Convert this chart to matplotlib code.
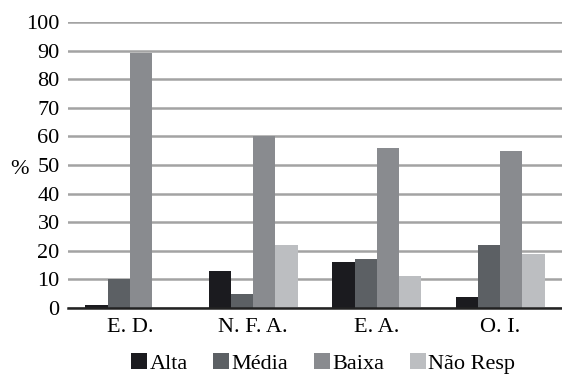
import matplotlib
matplotlib.use('Agg')
import matplotlib.pyplot as plt
import numpy as np

categories = ['E. D.', 'N. F. A.', 'E. A.', 'O. I.']
series = ['Alta', 'Média', 'Baixa', 'Não Resp']
alta = [1, 13, 16, 4]
media = [10, 5, 17, 22]
baixa = [89, 60, 56, 55]
nao_resp = [0, 22, 11, 19]
colors = ['#1b1b1f', '#5c6064', '#898b8f', '#bcbec1']

plt.rcParams['font.family'] = ['Liberation Serif', 'DejaVu Serif']
plt.rcParams['font.size'] = 16

fig = plt.figure(figsize=(5.62, 3.76), dpi=100)
ax = fig.add_axes([0.121, 0.181, 0.879, 0.7605])

x = np.arange(len(categories))
w = 0.18
for i, (name, vals) in enumerate(zip(series, [alta, media, baixa, nao_resp])):
    ax.bar(x + (i - 1.5) * w, vals, w, color=colors[i], label=name, zorder=3)

ax.set_xlim(-0.5, 3.5)
ax.set_ylim(0, 100)
ax.set_yticks(range(0, 101, 10))
ax.set_xticks(x)
ax.set_xticklabels(categories)
ax.yaxis.grid(True, color='#a3a3a3', linewidth=1.8, zorder=0)
ax.tick_params(axis='both', length=0)
ax.tick_params(axis='x', pad=7)
ax.tick_params(axis='y', pad=6)
for s in ['top', 'right', 'left']:
    ax.spines[s].set_visible(False)
ax.spines['bottom'].set_color('#222222')
ax.spines['bottom'].set_linewidth(1.8)
ax.spines['bottom'].set_zorder(4)

fig.text(0.035, 0.55, '%', ha='center', va='center')

fig.legend(loc='lower center', bbox_to_anchor=(0.575, -0.048), ncol=4, frameon=False,
           handlelength=0.72, handleheight=0.72, handletextpad=0.1, columnspacing=1.15)

fig.savefig('out.png')
